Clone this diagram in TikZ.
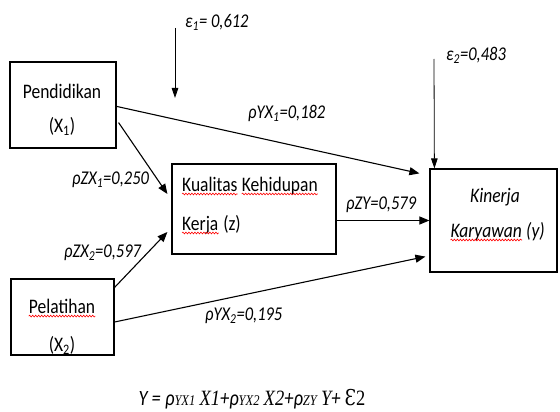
\documentclass[tikz,border=0pt]{standalone}
\usepackage{fontspec}
\setmainfont{Carlito}
\newfontfamily\serifm{Liberation Serif}
\newfontfamily\dejas{DejaVu Serif}
\usetikzlibrary{arrows.meta,calc,decorations.pathmorphing}
\newcommand\tall[1]{\scalebox{1}[1.18]{#1}}
\begin{document}
\begin{tikzpicture}[x=1pt,y=-1pt,
  box/.style={draw, line width=1.2pt, inner sep=0pt},
  conn/.style={line width=1.1pt, -{Triangle[length=10pt,width=8pt]}},
  thinconn/.style={line width=0.8pt, -{Triangle[length=10pt,width=6.5pt]}},
  lbl/.style={font=\fontsize{16.5}{19}\selectfont\itshape, inner sep=0pt, anchor=west},
  txt/.style={font=\fontsize{17.5}{21}\selectfont, inner sep=0pt},
  itxt/.style={font=\fontsize{17.5}{21}\selectfont\itshape, inner sep=0pt},
  eq/.style={font=\fontsize{18.5}{21}\selectfont, inner sep=0pt},
  wave/.style={red, line width=0.6pt, decorate, decoration={snake, amplitude=0.9pt, segment length=3pt}}]
\useasboundingbox (0,0) rectangle (560,412);
% boxes
\node[box, minimum width=106pt, minimum height=86pt] (pend) at (63,105) {};
\node[box, minimum width=164pt, minimum height=90pt] (kual) at (254,209) {};
\node[box, minimum width=103pt, minimum height=76pt] (pel) at (62.5,317) {};
\node[box, minimum width=127pt, minimum height=103pt] (kin) at (493.5,220.5) {};
% box texts
\node[txt] (t1) at (62,91) {\tall{Pendidikan}};
\node[txt] (t2) at (62,126) {\tall{(X\textsubscript{1})}};
\node[txt, anchor=base west] (k1) at (182,191) {\tall{Kualitas}};
\node[txt, anchor=base west] (k2) at ([xshift=4pt]k1.base east) {\tall{Kehidupan}};
\node[txt, anchor=base west] (k3) at (182,230) {\tall{Kerja}};
\node[txt, anchor=base west] (k4) at ([xshift=4.5pt]k3.base east) {\tall{(z)}};
\node[txt] (t5) at (62,306) {\tall{Pelatihan}};
\node[txt] (t6) at (62,345) {\tall{(X\textsubscript{2})}};
\node[itxt] (t7) at (495,197) {\tall{Kinerja}};
\node[itxt, anchor=base east] (t8a) at (522,237) {\tall{Karyawan}};
\node[itxt, anchor=base west] (t8b) at ([xshift=4pt]t8a.base east) {\tall{(y)}};
% spell-check underlines
\draw[wave] ([yshift=-3pt]k1.base west) -- ([yshift=-3pt]k1.base east);
\draw[wave] ([yshift=-3pt]k2.base west) -- ([yshift=-3pt]k2.base east);
\draw[wave] ([yshift=-3pt]k3.base west) -- ([yshift=-3pt]k3.base east);
\draw[wave] ([yshift=-3pt]t5.base west) -- ([yshift=-3pt]t5.base east);
\draw[wave] ([yshift=-3pt]t8a.base west) -- ([yshift=-3pt]t8a.base east);
% labels
\node[lbl] (le1) at (185,22) {\tall{ε\textsubscript{1}= 0,612}};
\node[lbl] (le2) at (446,55) {\tall{ε\textsubscript{2}=0,483}};
\node[lbl] (lyx1) at (248,113) {\tall{ρYX\textsubscript{1}=0,182}};
\node[lbl] (lzx1) at (72,180) {\tall{ρZX\textsubscript{1}=0,250}};
\node[lbl] (lzx2) at (64,253) {\tall{ρZX\textsubscript{2}=0,597}};
\node[lbl] (lyx2) at (205,316) {\tall{ρYX\textsubscript{2}=0,195}};
\node[lbl] (lzy) at (346,205) {\tall{ρZY=0,579}};
% error arrows
\coordinate (e1a) at (175,28);
\coordinate (e1b) at (175,98);
\coordinate (e2a) at (434,59);
\draw[thinconn] (e1a) -- (e1b);
\draw[thinconn] (e2a) -- ($(kin.north west)+(5,0)$);
% paths
\draw[conn] ($(pend.north east)+(0,45)$) -- ($(kin.north west)+(-10,5)$);
\draw[conn] ($(pend.south east)+(2,-26)$) -- ($(kual.west)+(-4,-15)$);
\draw[conn] ($(pel.north east)+(0,9)$) -- ($(kual.west)+(-4,23)$);
\draw[conn] ($(pel.east)+(0,5)$) -- ($(kin.south west)+(-4,-16)$);
\draw[conn] ($(kual.east)+(0,11.5)$) -- (kin.west);
% equation
\node[eq] (eqn) at (252,399) {\tall{\itshape Y = ρ{\serifm\fontsize{12.5}{14}\selectfont\itshape YX1} {\serifm X1}+ρ{\serifm\fontsize{12.5}{14}\selectfont\itshape YX2} {\serifm X2}+ρ{\serifm\fontsize{12.5}{14}\selectfont\itshape ZY} {\serifm\itshape Y}+ {\dejas\upshape Ɛ}{\serifm\upshape 2}}};
\end{tikzpicture}
\end{document}
